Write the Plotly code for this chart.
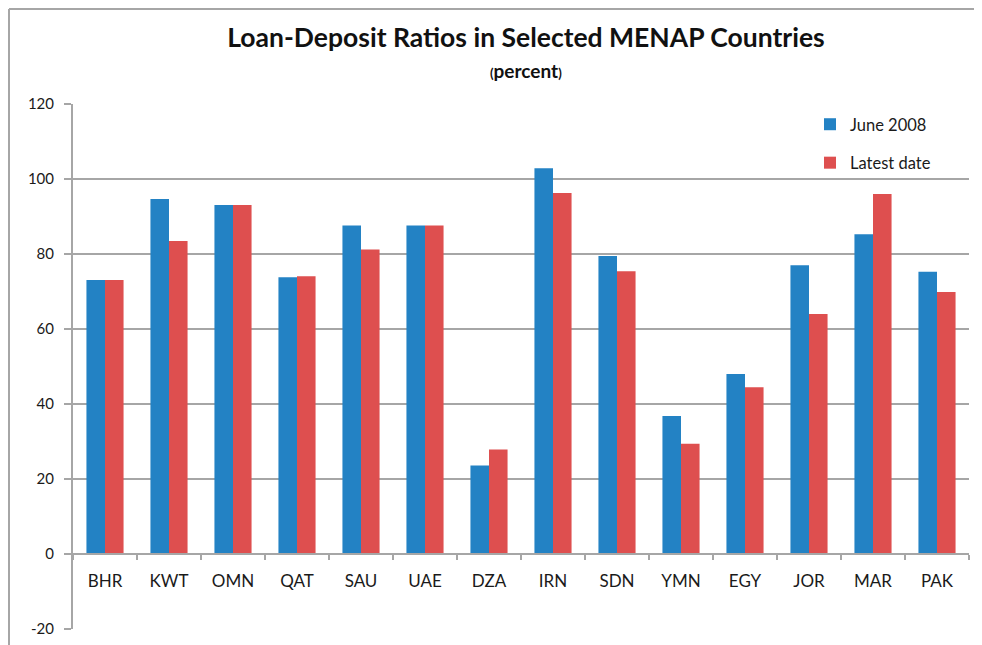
import plotly.graph_objects as go

countries = ['BHR', 'KWT', 'OMN', 'QAT', 'SAU', 'UAE', 'DZA', 'IRN', 'SDN', 'YMN', 'EGY', 'JOR', 'MAR', 'PAK']
june_2008 = [73.1, 94.7, 93.1, 73.8, 87.6, 87.6, 23.6, 102.9, 79.5, 36.8, 48.0, 77.0, 85.3, 75.3]
latest_date = [73.1, 83.5, 93.1, 74.1, 81.2, 87.6, 27.9, 96.3, 75.4, 29.4, 44.5, 64.0, 96.0, 69.9]
y_ticks = [-20, 0, 20, 40, 60, 80, 100, 120]
y_tick_text = ['-20', '0', '20', '40', '60', '80', '100', '120']

blue = '#2382C4'
red = '#DE4F4F'
grid = '#A6A6A6'
font = 'Lato, Calibri, sans-serif'

# page body adds an 8px offset, so the figure is 8px smaller and shifted
W, H = 974, 637
L, T, B = 65, 96, 16
R = W - 961
PW, PH = W - L - R, H - T - B

fig = go.Figure()
fig.add_trace(go.Bar(x=countries, y=june_2008, name='June 2008', marker_color=blue,
                     marker_line_width=0, legendgroup='a'))
fig.add_trace(go.Bar(x=countries, y=latest_date, name='Latest date', marker_color=red,
                     marker_line_width=0, legendgroup='b'))

fig.update_layout(
    width=W, height=H,
    margin=dict(l=L, r=R, t=T, b=B, autoexpand=False),
    paper_bgcolor='white', plot_bgcolor='white',
    font=dict(family=font, color='#1a1a1a', size=16),
    barmode='group', bargap=0.42, bargroupgap=0,
    title=dict(text='<b>Loan-Deposit Ratios in Selected MENAP Countries</b>',
               font=dict(size=26.5, family=font, color='#111'),
               xref='paper', x=(518 - L) / PW, xanchor='center',
               yref='container', y=1 - 30 / H, yanchor='middle'),
    legend=dict(x=(802 - L) / PW, y=(H - B - 99) / PH, xanchor='left', yanchor='top',
                font=dict(size=16.5, family=font), tracegroupgap=14,
                itemwidth=30, bgcolor='rgba(0,0,0,0)'),
    showlegend=True,
)

fig.add_annotation(text='<b><span style="font-size:13px">(</span>percent<span style="font-size:13px">)</span></b>',
                   xref='paper', yref='paper', x=(518 - L) / PW, y=(H - B - 63) / PH,
                   showarrow=False, font=dict(size=19, family=font, color='#111'),
                   xanchor='center', yanchor='middle')

fig.update_yaxes(range=[-20, 120], tickvals=y_ticks, ticktext=y_tick_text,
                 showgrid=True, gridcolor=grid, gridwidth=2,
                 zeroline=False, showline=True, linecolor=grid, linewidth=2,
                 ticks='outside', ticklen=7, tickcolor=grid, tickwidth=2,
                 tickfont=dict(size=15), ticklabelstandoff=7)
fig.update_xaxes(anchor='free', position=20 / 140, showline=True, linecolor=grid, linewidth=2,
                 ticks='outside', tickson='boundaries', ticklen=5, tickcolor=grid, tickwidth=2,
                 showgrid=False, tickfont=dict(size=17), ticklabelstandoff=12)

# outer chart frame
x_l = (1 - L) / PW
y_t = (H - B - 1) / PH
fig.add_shape(type='line', xref='paper', yref='paper', x0=x_l, x1=x_l, y0=-0.2, y1=y_t,
              line=dict(color=grid, width=2))
fig.add_shape(type='line', xref='paper', yref='paper', x0=x_l, x1=1.2, y0=y_t, y1=y_t,
              line=dict(color=grid, width=2))

fig.write_html('out.html')
